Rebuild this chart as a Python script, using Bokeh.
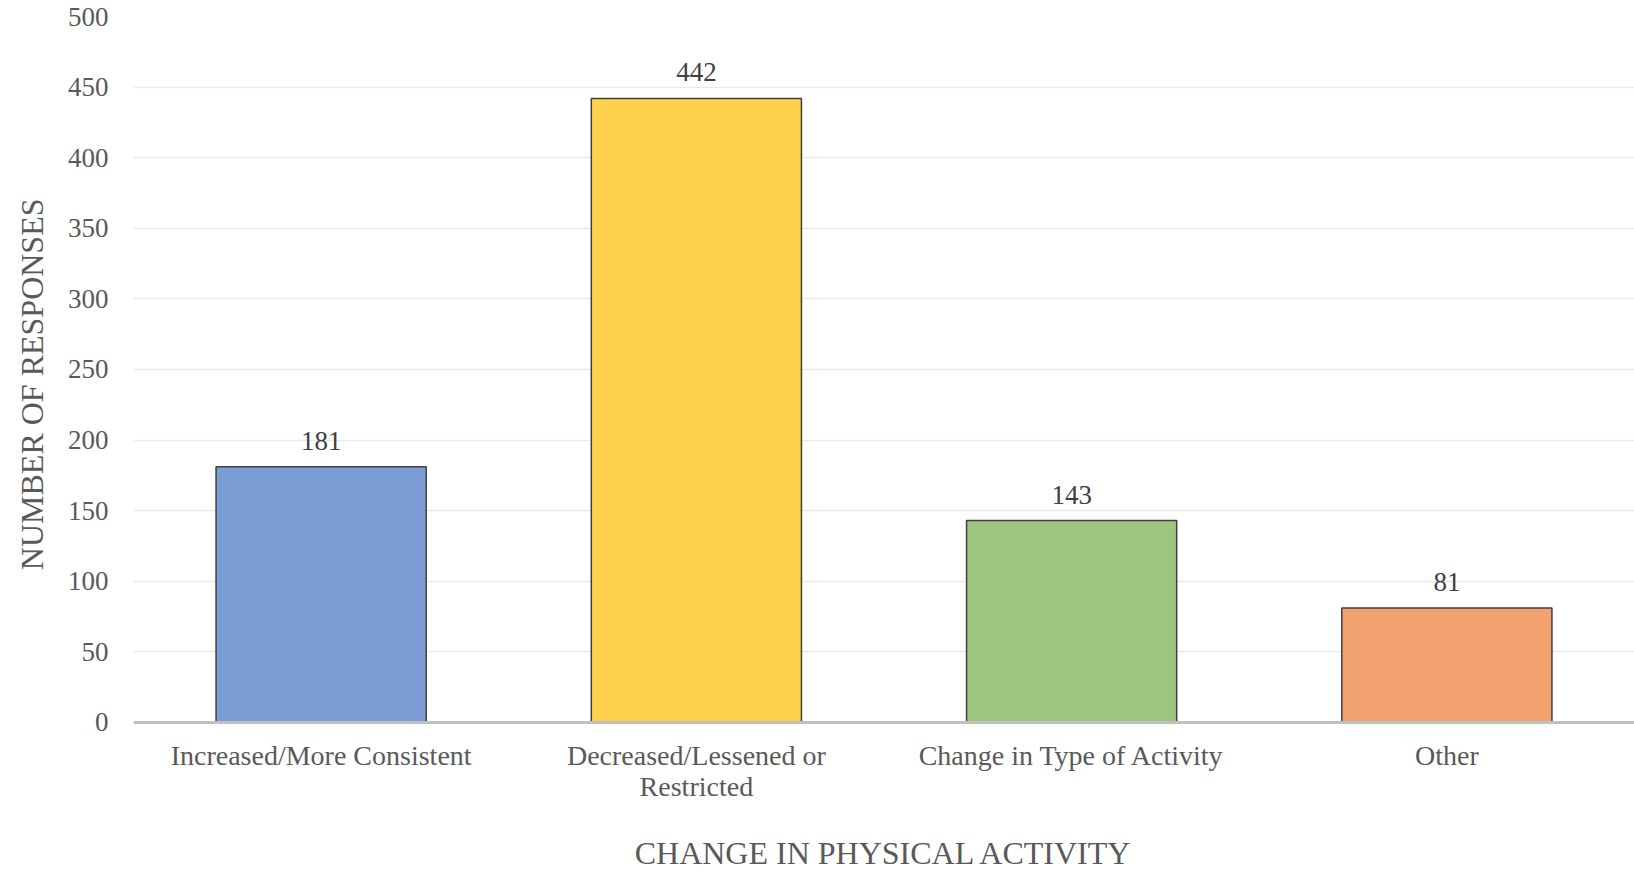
from bokeh.plotting import figure
from bokeh.models import ColumnDataSource, Range1d, FactorRange, LabelSet, Span, Title
from bokeh.core.properties import value
from bokeh.embed import file_html
from bokeh.resources import INLINE

categories = ["Increased/More Consistent", "Decreased/Lessened or Restricted",
              "Change in Type of Activity", "Other"]
tick_labels = ["Increased/More Consistent", "Decreased/Lessened or\nRestricted",
               "Change in Type of Activity", "Other"]
responses = [181, 442, 143, 81]
colors = ["#7B9CD5", "#FDD14B", "#9CC580", "#F1A26E"]
y_ticks = [0, 50, 100, 150, 200, 250, 300, 350, 400, 450, 500]

FONT = "Liberation Serif"
GRAY = "#595959"

src = ColumnDataSource(dict(cat=categories, val=responses, color=colors,
                            lab=[str(v) for v in responses],
                            tick=tick_labels, zero=[0] * len(categories)))

p = figure(width=1634, height=872, x_range=FactorRange(*categories),
           y_range=Range1d(-78, 500), output_backend="svg", toolbar_location=None,
           min_border_left=133, min_border_right=0, min_border_top=16,
           min_border_bottom=40)
p.outline_line_color = None
p.background_fill_color = "white"
p.border_fill_color = "white"

p.vbar(x="cat", top="val", width=0.56, source=src, fill_color="color",
       line_color="#404040", line_width=1.5)

p.add_layout(Span(location=0, dimension="width", line_color="#BFBFBF", line_width=3))

labels = LabelSet(x="cat", y="val", text="lab", source=src, y_offset=17,
                  text_align="center", text_baseline="bottom",
                  text_font=FONT, text_font_size="27px", text_color="#404040")
p.add_layout(labels)

p.text(x="cat", y="zero", text="tick", source=src, y_offset=18,
       text_align="center", text_baseline="top",
       text_font=value(FONT), text_font_size="28px", text_color=GRAY,
       text_line_height=1.0)

p.xgrid.grid_line_color = None
p.ygrid.grid_line_color = "#e9e9e9"
p.ygrid.grid_line_width = 1.5
p.yaxis.ticker = y_ticks

p.yaxis.axis_line_color = None
p.yaxis.major_tick_line_color = None
p.yaxis.minor_tick_line_color = None
p.yaxis.major_tick_out = 0
p.yaxis.major_tick_in = 0
p.yaxis.minor_tick_out = 0
p.yaxis.minor_tick_in = 0
p.yaxis.major_label_text_font = FONT
p.yaxis.major_label_text_font_size = "27px"
p.yaxis.major_label_text_color = GRAY
p.yaxis.major_label_standoff = 25

p.xaxis.visible = False

ytitle = Title(text="NUMBER OF RESPONSES", align="right", offset=182,
               vertical_align="top", text_font=FONT, text_font_size="32px",
               text_font_style="normal", text_color=GRAY, standoff=25)
p.add_layout(ytitle, "left")

xtitle = Title(text="CHANGE IN PHYSICAL ACTIVITY", align="center",
               text_font=FONT, text_font_size="32px",
               text_font_style="normal", text_color=GRAY, standoff=0)
p.add_layout(xtitle, "below")

open("out.html", "w").write(file_html(p, INLINE))
